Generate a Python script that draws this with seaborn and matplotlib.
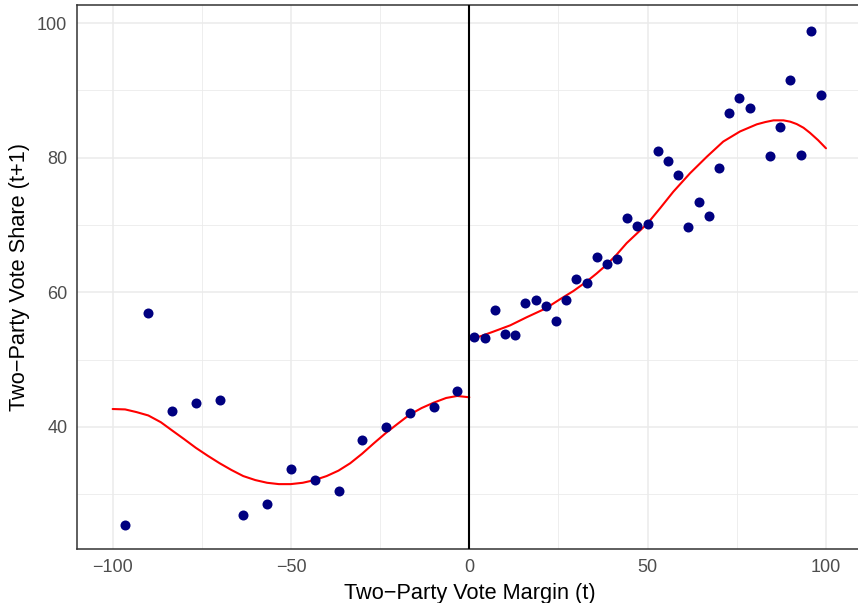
import pandas as pd
import matplotlib
matplotlib.use("Agg")
import matplotlib.pyplot as plt
import seaborn as sns

# bin centres and vote shares
left_margin = [-96.67, -90.0, -83.33, -76.67, -70.0, -63.33, -56.67, -50.0,
               -43.33, -36.67, -30.0, -23.33, -16.67, -10.0, -3.33]
left_share = [25.4, 57.0, 42.4, 43.5, 43.95, 26.9, 28.5, 33.7,
              32.1, 30.5, 38.1, 40.0, 42.0, 43.0, 45.3]

right_margin = [1.43, 4.29, 7.14, 10.0, 12.86, 15.71, 18.57, 21.43, 24.29,
                27.14, 30.0, 32.86, 35.71, 38.57, 41.43, 44.29, 47.14, 50.0,
                52.86, 55.71, 58.57, 61.43, 64.29, 67.14, 70.0, 72.86, 75.71,
                78.57, 84.29, 87.14, 90.0, 92.86, 95.71, 98.57]
right_share = [53.3, 53.2, 57.4, 53.8, 53.6, 58.4, 58.9, 57.9, 55.7,
               58.8, 62.0, 61.4, 65.3, 64.2, 64.9, 71.0, 69.9, 70.1,
               81.0, 79.55, 77.5, 69.7, 73.4, 71.3, 78.4, 86.6, 88.9,
               87.4, 80.3, 84.6, 91.6, 80.45, 98.9, 89.3]

# red fitted curves, sampled off the chart
curve_left_x = [-100, -96.5, -93.3, -90, -86.5, -83.4, -80, -76.7, -73.3,
                -70.0, -66.7, -63.4, -60, -56.7, -53.4, -50.1, -46.7, -43.4,
                -40, -36.7, -33.4, -30.1, -26.7, -23.4, -20, -16.8, -13.4,
                -10.0, -6.5, -3.4, 0]
curve_left_y = [42.66, 42.6, 42.2, 41.7, 40.7, 39.5, 38.2, 36.9, 35.7,
                34.6, 33.6, 32.7, 32.1, 31.7, 31.5, 31.5, 31.7, 32.1,
                32.7, 33.5, 34.6, 36.0, 37.6, 39.1, 40.5, 41.8, 42.8,
                43.6, 44.3, 44.6, 44.4]

curve_right_x = [0, 3.3, 6.7, 11.5, 16.1, 21.4, 25.4, 29.2, 32.9, 35.7, 38.5,
                 41.3, 44.1, 47.1, 50.0, 53.5, 57.2, 61.9, 66.6, 71.2, 75.9,
                 80.6, 83.0, 85.3, 88.1, 90.0, 91.8, 93.7, 95.5, 97.8, 100]
curve_right_y = [53.0, 53.5, 54.15, 55.1, 56.3, 57.6, 58.96, 60.2, 61.6, 62.8,
                 64.1, 65.6, 67.3, 68.8, 70.25, 72.5, 74.95, 77.7, 80.15, 82.4,
                 83.9, 84.96, 85.3, 85.55, 85.55, 85.35, 85.0, 84.45, 83.7,
                 82.6, 81.4]

sns.set_style("white")
plt.rcParams["font.family"] = ["Liberation Sans", "DejaVu Sans"]

df = pd.DataFrame({"margin": left_margin + right_margin,
                   "share": left_share + right_share})
fit_left = pd.DataFrame({"margin": curve_left_x, "share": curve_left_y})
fit_right = pd.DataFrame({"margin": curve_right_x, "share": curve_right_y})

fig = plt.figure(figsize=(8.58, 6.03), dpi=100)
ax = fig.add_axes([77 / 858, 54 / 603, 785 / 858, 544 / 603])

ax.set_xticks([-75, -25, 25, 75], minor=True)
ax.set_yticks([30, 50, 70, 90], minor=True)
ax.grid(True, which="major", color="#EBEBEB", lw=1.1)
ax.grid(True, which="minor", color="#EBEBEB", lw=0.6)
ax.set_axisbelow(True)

sns.lineplot(data=fit_left, x="margin", y="share", color="red", lw=1.5,
             sort=False, ax=ax, solid_joinstyle="round")
sns.lineplot(data=fit_right, x="margin", y="share", color="red", lw=1.5,
             sort=False, ax=ax, solid_joinstyle="round")
sns.scatterplot(data=df, x="margin", y="share", color="#000080", s=52,
                linewidth=0, ax=ax, zorder=3)
ax.axvline(0, color="black", lw=1.5, zorder=4)

ax.set_xlim(-110, 110.1)
ax.set_ylim(21.86, 102.69)
ax.set_xticks([-100, -50, 0, 50, 100])
ax.set_yticks([40, 60, 80, 100])
ax.tick_params(axis="both", which="major", length=4, width=1.0, color="#333333",
               labelsize=13, labelcolor="#4D4D4D", pad=3)
ax.tick_params(which="minor", length=0)

for side in ["left", "bottom", "top"]:
    ax.spines[side].set_color("#333333")
    ax.spines[side].set_linewidth(1.1)
ax.spines["right"].set_visible(False)

ax.set_xlabel("Two\u2212Party Vote Margin (t)", fontsize=15.7, color="black", labelpad=5)
ax.set_ylabel("Two\u2212Party Vote Share (t+1)", fontsize=15.7, color="black", labelpad=5)

fig.savefig("out.png", dpi=100)
